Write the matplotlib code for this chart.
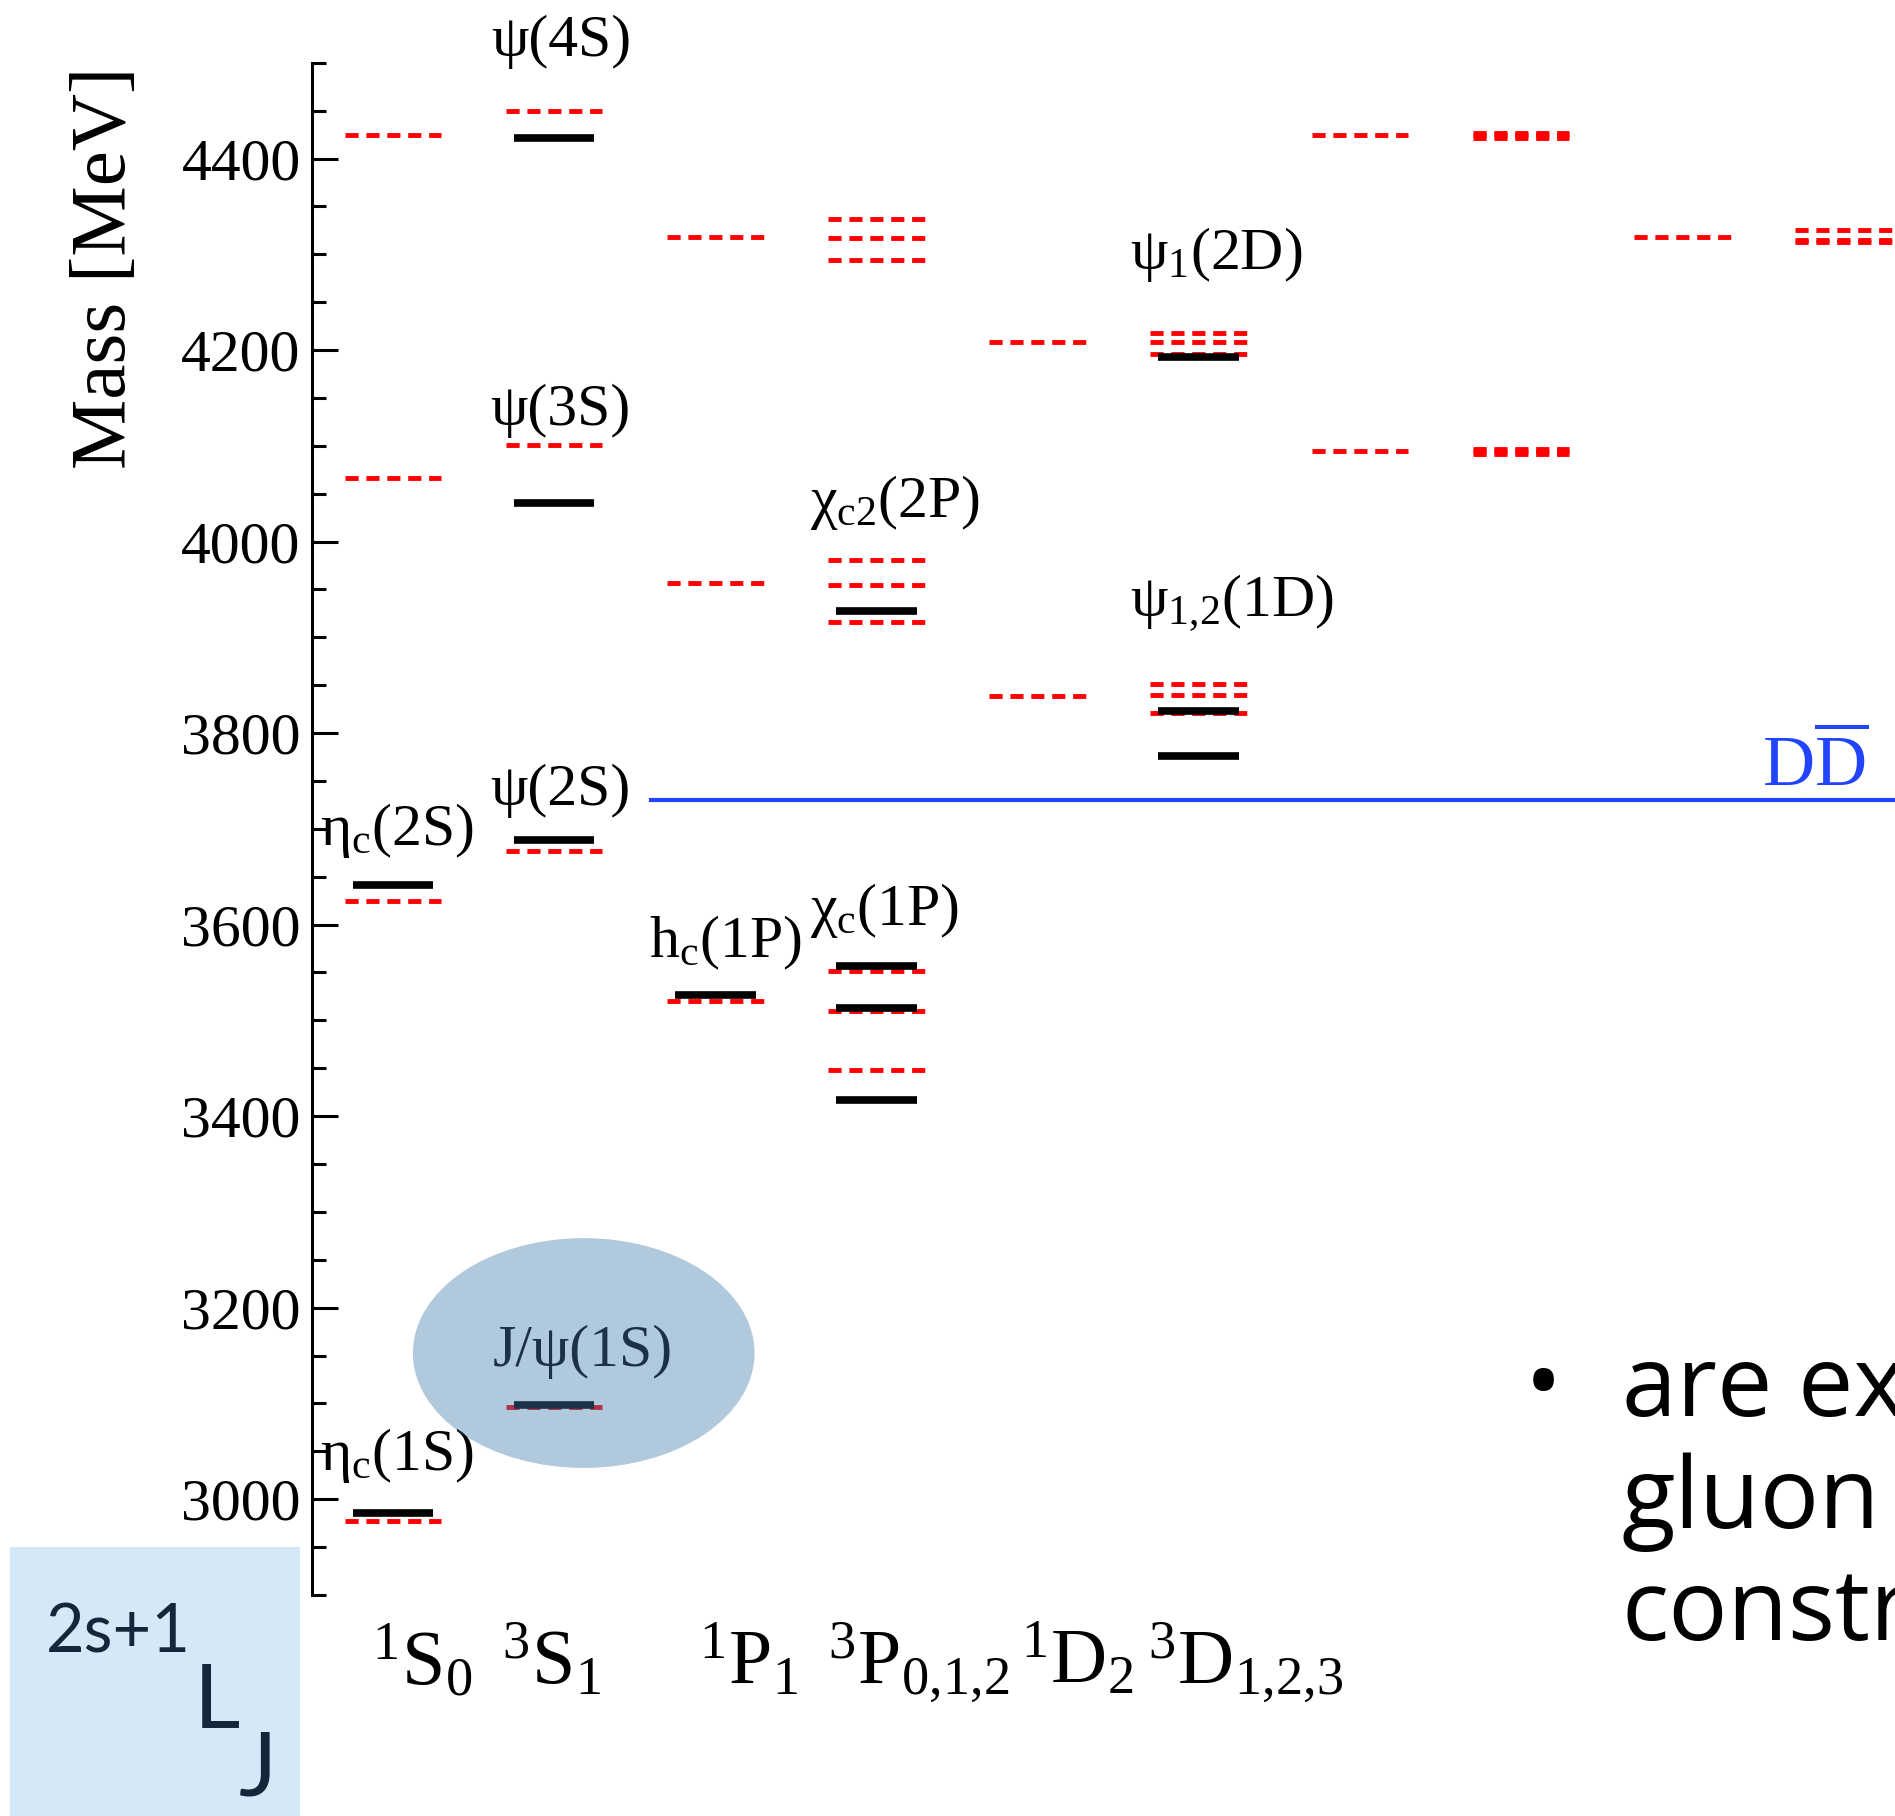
import matplotlib
matplotlib.use('Agg')
import matplotlib.pyplot as plt
from matplotlib.patches import Ellipse, Rectangle
from matplotlib.ticker import MultipleLocator

plt.rcParams['mathtext.fontset'] = 'custom'
plt.rcParams['mathtext.rm'] = 'Liberation Serif'
plt.rcParams['mathtext.it'] = 'Liberation Serif:italic'
plt.rcParams['mathtext.bf'] = 'Liberation Serif:bold'
plt.rcParams['mathtext.default'] = 'rm'
plt.rcParams['font.family'] = ['Liberation Serif', 'DejaVu Serif']

# ---------------- data ----------------
categories = ['1S0', '3S1', '1P1', '3P012', '1D2', '3D123', '1F3', '3F234', '1G4', '3G345']
category_labels = [r'$^{1}$S$_{0}$', r'$^{3}$S$_{1}$', r'$^{1}$P$_{1}$',
                   r'$^{3}$P$_{0{,}1{,}2}$', r'$^{1}$D$_{2}$', r'$^{3}$D$_{1{,}2{,}3}$']

# measured states (black solid)
exp_column = [0, 0, 1, 1, 1, 1, 2, 3, 3, 3, 3, 5, 5, 5]
exp_mass = [2986, 3641, 3098, 3688, 4040, 4421, 3526, 3417, 3513, 3557, 3928, 3776, 3823, 4193]

# potential-model predictions (red dashed)
model_column = [0, 0, 0, 0,
                1, 1, 1, 1,
                2, 2, 2,
                3, 3, 3, 3, 3, 3, 3, 3, 3,
                4, 4,
                5, 5, 5, 5, 5, 5,
                6, 6,
                7, 7, 7, 7, 7, 7,
                8,
                9, 9, 9]
model_mass = [2977, 3625, 4066, 4425,
              3096, 3677, 4101, 4450,
              3520, 3957, 4318,
              3448, 3510, 3552, 3916, 3955, 3981, 4294, 4317, 4337,
              3839, 4208,
              3821, 3840, 3851, 4196, 4208, 4218,
              4095, 4425,
              4092, 4095, 4097, 4422, 4425, 4427,
              4318,
              4313, 4315, 4325]

dd_threshold = 3730

# ---------------- figure ----------------
W, H = 1568.0, 1503.0
def fx(p):
    return p / W
def fy(p):
    return 1 - p / H

fig = plt.figure(figsize=(18.95, 18.16), dpi=100)
ax = fig.add_axes([fx(258), fy(1320), 1 - fx(258), fy(52) - fy(1320)])
ax.set_xlim(-0.503, 9.32)
ax.set_ylim(2900, 4500)

for c, m in zip(model_column, model_mass):
    ax.plot([c - 0.3, c + 0.3], [m, m], color='#ff0000', lw=3.5,
            ls=(0, (2.7, 1.6)), dash_capstyle='butt', zorder=2)
for c, m in zip(exp_column, exp_mass):
    ax.plot([c - 0.25, c + 0.25], [m, m], color='black', lw=5.5,
            solid_capstyle='butt', zorder=3)

ax.plot([1.6, 9.32], [dd_threshold, dd_threshold], color='#2244ff', lw=3, zorder=2,
        clip_on=False)

for s in ['top', 'right', 'bottom']:
    ax.spines[s].set_visible(False)
ax.spines['left'].set_linewidth(2.2)
ax.set_xticks([])
ax.yaxis.set_major_locator(MultipleLocator(200))
ax.yaxis.set_minor_locator(MultipleLocator(50))
ax.tick_params(axis='y', which='major', direction='in', length=19, width=2.2,
               labelsize=43, pad=8)
ax.tick_params(axis='y', which='minor', direction='in', length=10, width=2.2)

# state labels
lab = dict(fontsize=43, color='black', zorder=4, clip_on=False)
ax.text(1.042, 4507, r'ψ(4S)', ha='center', va='baseline', **lab)
ax.text(1.042, 4122, r'ψ(3S)', ha='center', va='baseline', **lab)
ax.text(1.042, 3725, r'ψ(2S)', ha='center', va='baseline', **lab)
ax.text(-0.45, 3683, r'η$_{\rm c}$(2S)', ha='left', va='baseline', **lab)
ax.text(-0.45, 3030, r'η$_{\rm c}$(1S)', ha='left', va='baseline', **lab)
ax.text(1.177, 3139, r'J/ψ(1S)', ha='center', va='baseline', **lab)
ax.text(1.589, 3566, r'h$_{\rm c}$(1P)', ha='left', va='baseline', **lab)
ax.text(2.586, 3600, r'χ$_{\rm c}$(1P)', ha='left', va='baseline', **lab)
ax.text(2.586, 4026, r'χ$_{\rm c2}$(2P)', ha='left', va='baseline', **lab)
ax.text(4.573, 4285, r'ψ$_{1}$(2D)', ha='left', va='baseline', **lab)
ax.text(4.573, 3922, r'ψ$_{1{,}2}$(1D)', ha='left', va='baseline', **lab)
ax.text(8.493, 3745, r'D$\overline{\rm D}$', ha='left', va='baseline', fontsize=52,
        color='#2244ff', zorder=4, clip_on=False)

# highlight of J/psi
ax.add_patch(Ellipse((1.184, 3152.6), width=2.12, height=240, facecolor='#427cab',
                     edgecolor='none', alpha=0.41, zorder=6, clip_on=False))

# spectroscopic labels
cat_x = [-0.127, 0.675, 1.897, 2.699, 3.898, 4.685]
for lbl, x in zip(category_labels, cat_x):
    ax.text(x, 2808, lbl, ha='left', va='baseline', fontsize=56, clip_on=False)

fig.text(fx(88), fy(222), 'Mass [MeV]', rotation=90, ha='center', va='center',
         fontsize=57)

# notation box
fig.add_artist(Rectangle((fx(8), 0), fx(248) - fx(8), fy(1280), transform=fig.transFigure,
                         facecolor='#d5e8f8', edgecolor='none', zorder=0))
box_font = ['Lato', 'DejaVu Sans']
navy = '#16263a'
fig.text(fx(38), fy(1368), '2s+1', family=box_font, fontsize=48, color=navy, va='baseline')
fig.text(fx(160), fy(1430), 'L', family=box_font, fontsize=65, color=navy, va='baseline')
fig.text(fx(198), fy(1486), 'J', family=box_font, fontsize=65, color=navy, va='baseline')

# slide text (cut by the right edge, as in the slide)
sans = ['Open Sans', 'DejaVu Sans']
fig.text(fx(1262), fy(1172), '•', family=sans, fontsize=71, color='black', va='baseline')
fig.text(fx(1342), fy(1172), 'are ex', family=sans, fontsize=71, color='black', va='baseline')
fig.text(fx(1342), fy(1265), 'gluon', family=sans, fontsize=71, color='black', va='baseline')
fig.text(fx(1342), fy(1357), 'constr', family=sans, fontsize=71, color='black', va='baseline')

fig.savefig('out.png', dpi=100)
